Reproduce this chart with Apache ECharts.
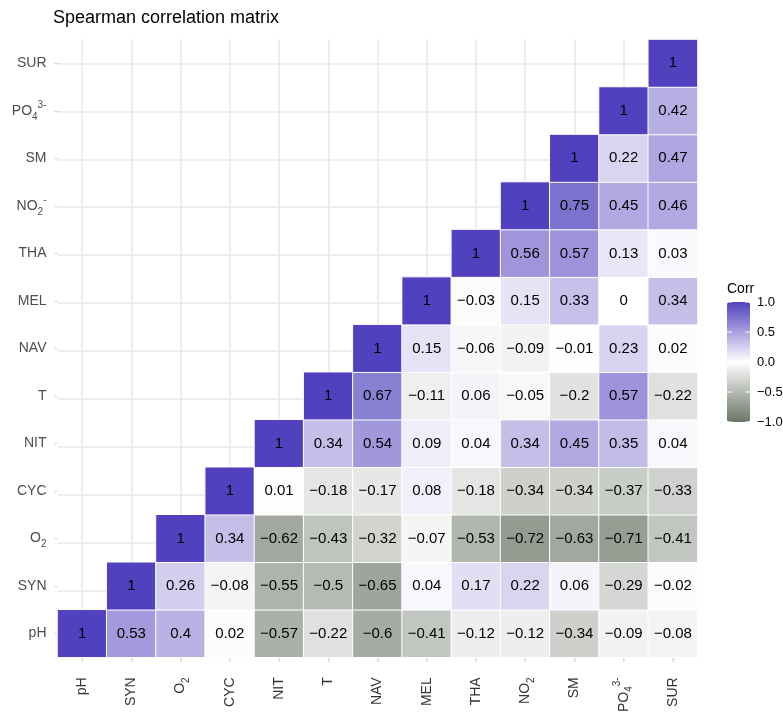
<!DOCTYPE html>
<html><head><meta charset="utf-8">
<script src="https://cdn.jsdelivr.net/npm/echarts@6/dist/echarts.min.js"></script>
<style>html,body{margin:0;padding:0;background:#fff;overflow:hidden}#c{width:783px;height:715px}</style>
</head><body><div id="c"></div>
<script>
var xCats = ['pH','SYN','O{sub|2}','CYC','NIT','T','NAV','MEL','THA','NO{sub|2}','SM','PO{sub|4}{sup|3-}','SUR'];
var yCats = ['pH','SYN','O{sub|2}','CYC','NIT','T','NAV','MEL','THA','NO{sub|2}{sup|-}','SM','PO{sub|4}{sup|3-}','SUR'];
// each row starts at the diagonal (x index == y index)
var rowPH  = [1, 0.53, 0.4, 0.02, -0.57, -0.22, -0.6, -0.41, -0.12, -0.12, -0.34, -0.09, -0.08];
var rowSYN = [1, 0.26, -0.08, -0.55, -0.5, -0.65, 0.04, 0.17, 0.22, 0.06, -0.29, -0.02];
var rowO2  = [1, 0.34, -0.62, -0.43, -0.32, -0.07, -0.53, -0.72, -0.63, -0.71, -0.41];
var rowCYC = [1, 0.01, -0.18, -0.17, 0.08, -0.18, -0.34, -0.34, -0.37, -0.33];
var rowNIT = [1, 0.34, 0.54, 0.09, 0.04, 0.34, 0.45, 0.35, 0.04];
var rowT   = [1, 0.67, -0.11, 0.06, -0.05, -0.2, 0.57, -0.22];
var rowNAV = [1, 0.15, -0.06, -0.09, -0.01, 0.23, 0.02];
var rowMEL = [1, -0.03, 0.15, 0.33, 0, 0.34];
var rowTHA = [1, 0.56, 0.57, 0.13, 0.03];
var rowNO2 = [1, 0.75, 0.45, 0.46];
var rowSM  = [1, 0.22, 0.47];
var rowPO4 = [1, 0.42];
var rowSUR = [1];
var legendTicks = [1.0, 0.5, 0.0, -0.5, -1.0];
var legendTickLabels = ['1.0', '0.5', '0.0', '\u22120.5', '\u22121.0'];

var rows = [rowPH,rowSYN,rowO2,rowCYC,rowNIT,rowT,rowNAV,rowMEL,rowTHA,rowNO2,rowSM,rowPO4,rowSUR];
var data = [];
rows.forEach(function(r, yi){ r.forEach(function(v, k){ data.push([yi + k, yi, v]); }); });

var FONT = "'Liberation Sans', Arial, Helvetica, sans-serif";
var GL = 57.5, GW = 640, GT = 39.5, GH = 623;
var barX = 727, barTop = 302, barW = 23, barH = 120;

function richFor(color){
  return {
    sub: {fontSize: 10, color: color, fontFamily: FONT, lineHeight: 22, verticalAlign: 'bottom'},
    sup: {fontSize: 10, color: color, fontFamily: FONT, lineHeight: 22, verticalAlign: 'top'}
  };
}

var graphic = [{type:'text', left: barX, top: 282, style:{text:'Corr', font:'14px ' + FONT, fill:'#000'}}];
legendTicks.forEach(function(t, i){
  var y = barTop + (1 - t) / 2 * barH;
  graphic.push({type:'text', x: barX + barW + 7, y: y, style:{text: legendTickLabels[i], font:'13px ' + FONT, fill:'#000', textVerticalAlign:'middle'}, z: 10});
  graphic.push({type:'line', shape:{x1: barX, y1: y, x2: barX + 5, y2: y}, style:{stroke:'#fff', lineWidth:1}, z: 10});
  graphic.push({type:'line', shape:{x1: barX + barW - 5, y1: y, x2: barX + barW, y2: y}, style:{stroke:'#fff', lineWidth:1}, z: 10});
});

var chart = echarts.init(document.getElementById('c'), null, {renderer:'canvas'});
chart.setOption({
  animation: false,
  backgroundColor: '#fff',
  textStyle: {fontFamily: FONT},
  title: {text: 'Spearman correlation matrix', left: 48, top: 4, textStyle:{fontSize: 18, fontWeight:'normal', color:'#000', fontFamily: FONT}},
  grid: [
    {left: GL, width: GW, top: GT, height: GH},
    {left: GL, width: GW, top: GT, height: GH}
  ],
  xAxis: [
    {type:'category', data: xCats, gridIndex: 0,
      axisLine:{show:false}, splitLine:{show:false},
      axisTick:{show:true, alignWithLabel:true, length:3, lineStyle:{color:'#cfcfcf'}},
      axisLabel:{rotate:90, margin:20, fontSize:14, color:'#333', fontFamily: FONT, rich: richFor('#333')}},
    {type:'value', gridIndex: 1, min:0, max:13, interval:1,
      axisLine:{show:false}, axisTick:{show:false}, axisLabel:{show:false},
      splitLine:{show:false}, minorTick:{show:false, splitNumber:2},
      minorSplitLine:{show:true, lineStyle:{color:'#e8e8e8', width:1.5}}}
  ],
  yAxis: [
    {type:'category', data: yCats, gridIndex: 0,
      axisLine:{show:false}, splitLine:{show:false},
      axisTick:{show:true, alignWithLabel:true, length:3, lineStyle:{color:'#cfcfcf'}},
      axisLabel:{margin:11, fontSize:14, color:'#4d4d4d', fontFamily: FONT, rich: richFor('#4d4d4d')}},
    {type:'value', gridIndex: 1, min:0, max:13, interval:1,
      axisLine:{show:false}, axisTick:{show:false}, axisLabel:{show:false},
      splitLine:{show:false}, minorTick:{show:false, splitNumber:2},
      minorSplitLine:{show:true, lineStyle:{color:'#e8e8e8', width:1.5}}}
  ],
  visualMap: {
    type:'continuous', seriesIndex: 0, min:-1, max:1, calculable:false,
    orient:'vertical', left: barX, top: barTop, itemWidth: barW, itemHeight: barH,
    padding: 0, text: null, showLabel:false,
    inRange: {color: ['#6B7567', '#ffffff', '#5141BE']}
  },
  graphic: graphic,
  series: [{
    type:'heatmap', xAxisIndex:0, yAxisIndex:0, data: data, z: 3,
    itemStyle:{borderColor:'#ffffff', borderWidth:1},
    label:{show:true, fontSize:15, color:'#000', fontFamily: FONT,
      formatter: function(p){ return String(p.value[2]).replace('-', '\u2212'); }},
    emphasis:{disabled:true}
  }]
});
</script></body></html>
